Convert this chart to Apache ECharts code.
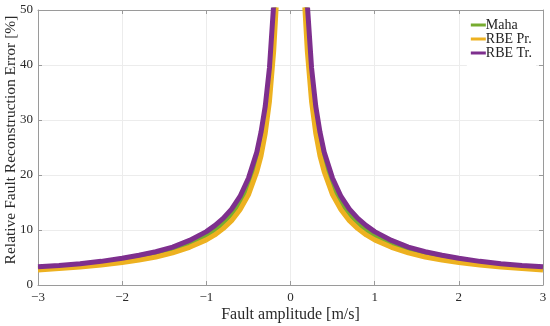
<!DOCTYPE html>
<html>
<head>
<meta charset="utf-8">
<script src="https://cdn.jsdelivr.net/npm/echarts@6/dist/echarts.min.js"></script>
<style>html,body{margin:0;padding:0;background:#fff}#c{width:550px;height:326px}</style>
</head>
<body>
<div id="c"></div>
<script>
// Fault amplitude magnitudes (curves are symmetric about 0)
var amplitudes = [0.1, 0.15, 0.2, 0.25, 0.3, 0.35, 0.4, 0.5, 0.6, 0.7, 0.8, 0.9, 1.0, 1.2, 1.4, 1.6, 1.8, 2.0, 2.25, 2.5, 2.75, 3.0];
var mahaErr   = [92, 62, 46.5, 36.8, 30.4, 25.9, 22.6, 18, 15, 12.9, 11.25, 10, 9.0, 7.5, 6.4, 5.6, 5.0, 4.5, 4.0, 3.6, 3.27, 3.0];
var rbePrErr  = [84, 56, 42.5, 33.4, 27.6, 23.5, 20.6, 16.4, 13.7, 11.7, 10.25, 9.1, 8.2, 6.85, 5.85, 5.1, 4.55, 4.1, 3.65, 3.28, 2.98, 2.73];
var rbeTrErr  = [100, 67, 51, 39.5, 32.5, 27.8, 24.2, 19.4, 16.1, 13.8, 12.1, 10.8, 9.7, 8.1, 6.9, 6.05, 5.4, 4.85, 4.3, 3.88, 3.53, 3.3];
var seriesNames = ['Maha', 'RBE Pr.', 'RBE Tr.'];
var seriesColors = ['#77AC30', '#EDB120', '#7E2F8E'];
var xTicks = [-3, -2, -1, 0, 1, 2, 3];
var yTicks = [0, 10, 20, 30, 40, 50];
var xTitle = 'Fault amplitude [m/s]';
var yTitle = 'Relative Fault Reconstruction Error [%]';

function build(vals) {
  var pts = [];
  for (var i = amplitudes.length - 1; i >= 0; i--) pts.push([-amplitudes[i], vals[i]]);
  pts.push([0, '-']);
  for (var j = 0; j < amplitudes.length; j++) pts.push([amplitudes[j], vals[j]]);
  return pts;
}
var font = 'Liberation Serif';
var axisCol = '#9a9a9a';
var txtCol = '#2a2a2a';
function fmt(v){ return String(v).replace('-', '\u2212'); }
var allVals = [mahaErr, rbePrErr, rbeTrErr];
var series = seriesNames.map(function(n, k){
  return {
    name: n, type: 'line', data: build(allVals[k]), symbol: 'none', showSymbol: false,
    lineStyle: {width: 5, color: seriesColors[k]}, itemStyle: {color: seriesColors[k]},
    clip: true, connectNulls: false, animation: false
  };
});
var chart = echarts.init(document.getElementById('c'), null, {renderer: 'canvas'});
chart.setOption({
  animation: false,
  backgroundColor: '#ffffff',
  grid: {left: 38, right: 7, top: 10, bottom: 41, containLabel: false, outerBoundsMode: 'none'},
  legend: {
    orient: 'vertical', right: 14, top: 12, icon: 'rect', itemWidth: 15, itemHeight: 3,
    itemGap: 0, padding: [6, 4, 6, 4], backgroundColor: '#ffffff',
    textStyle: {fontFamily: font, fontSize: 14, color: '#222', lineHeight: 14, padding: [0,0,0,-5]},
    data: seriesNames
  },
  xAxis: [{
    type: 'value', min: xTicks[0], max: xTicks[xTicks.length-1], interval: 1,
    name: xTitle, nameLocation: 'middle', nameGap: 22, nameMoveOverlap: false,
    nameTextStyle: {fontFamily: font, fontSize: 16, color: txtCol},
    axisLine: {show: true, onZero: false, lineStyle: {color: axisCol, width: 1}},
    axisTick: {show: true, inside: true, length: 4, lineStyle: {color: axisCol}},
    axisLabel: {fontFamily: font, fontSize: 13, color: txtCol, margin: 6, formatter: fmt},
    splitLine: {show: true, lineStyle: {color: '#ececec', width: 1}}
  }, {
    type: 'value', position: 'top', min: -3, max: 3, interval: 1,
    axisLine: {show: true, onZero: false, lineStyle: {color: axisCol, width: 1}},
    axisTick: {show: true, inside: true, length: 4, lineStyle: {color: axisCol}},
    axisLabel: {show: false}, splitLine: {show: false}
  }],
  yAxis: [{
    type: 'value', min: yTicks[0], max: yTicks[yTicks.length-1], interval: 10,
    name: yTitle, nameLocation: 'middle', nameGap: 19, nameMoveOverlap: false,
    nameTextStyle: {fontFamily: font, fontSize: 15.5, color: txtCol, padding: [0, 0, 0, 15]},
    axisLine: {show: true, onZero: false, lineStyle: {color: axisCol, width: 1}},
    axisTick: {show: true, inside: true, length: 4, lineStyle: {color: axisCol}},
    axisLabel: {fontFamily: font, fontSize: 13, color: txtCol, margin: 5},
    splitLine: {show: true, lineStyle: {color: '#ececec', width: 1}}
  }, {
    type: 'value', position: 'right', min: 0, max: 50, interval: 10,
    axisLine: {show: true, onZero: false, lineStyle: {color: axisCol, width: 1}},
    axisTick: {show: true, inside: true, length: 4, lineStyle: {color: axisCol}},
    axisLabel: {show: false}, splitLine: {show: false}
  }],
  series: series
});
</script>
</body>
</html>
